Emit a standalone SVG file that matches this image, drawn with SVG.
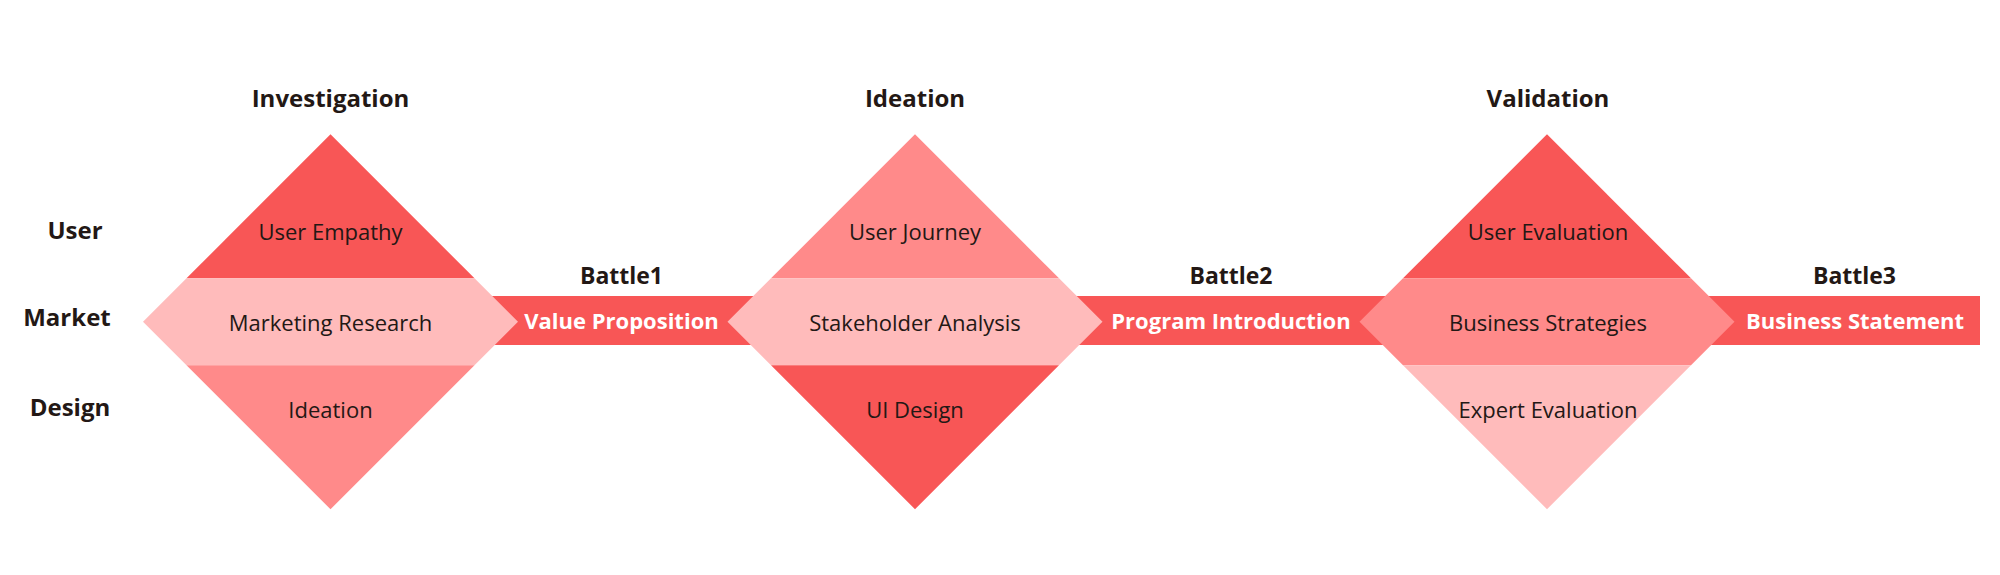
<svg xmlns="http://www.w3.org/2000/svg" xmlns:xlink="http://www.w3.org/1999/xlink" width="2000" height="575" viewBox="0 0 2000 575">
  <style>
    .dark { fill: #F85656; }
    .mid { fill: #FF8A8A; }
    .light { fill: #FFBBBB; }
    .title { font-family: "Open Sans", "Liberation Sans", sans-serif; font-weight: 700; font-size: 24px; fill: #231815; text-anchor: middle; }
    .row { font-family: "Open Sans", "Liberation Sans", sans-serif; font-weight: 700; font-size: 24px; fill: #231815; text-anchor: middle; }
    .cell { font-family: "Open Sans", "Liberation Sans", sans-serif; font-weight: 400; font-size: 22px; fill: #231815; text-anchor: middle; }
    .battle { font-family: "Open Sans", "Liberation Sans", sans-serif; font-weight: 700; font-size: 23px; fill: #231815; text-anchor: middle; }
    .barlabel { font-family: "Open Sans", "Liberation Sans", sans-serif; font-weight: 700; font-size: 22px; fill: #FFFFFF; text-anchor: middle; }
  </style>
  <defs>
    <polygon id="tri-top" points="0,134.3 144,278.3 -144,278.3"/>
    <polygon id="band-mid" points="-144,278.3 144,278.3 187.5,321.8 144,365.3 -144,365.3 -187.5,321.8"/>
    <polygon id="tri-bot" points="-144,365.3 144,365.3 0,509.3"/>
  </defs>

  <g id="connectors">
    <rect class="dark" x="330" y="296" width="1650" height="49"/>
    <text class="battle" x="621.5" y="283.5">Battle1</text>
    <text class="barlabel" x="621.5" y="329">Value Proposition</text>
    <text class="battle" x="1231" y="283.5">Battle2</text>
    <text class="barlabel" x="1231" y="329">Program Introduction</text>
    <text class="battle" x="1854.5" y="283.5">Battle3</text>
    <text class="barlabel" x="1855" y="329">Business Statement</text>
  </g>

  <g id="row-labels">
    <text class="row" x="75" y="239">User</text>
    <text class="row" x="67" y="326">Market</text>
    <text class="row" x="70" y="416">Design</text>
  </g>

  <g id="investigation">
    <text class="title" x="330.5" y="107">Investigation</text>
    <g transform="translate(330.5,0)">
      <use xlink:href="#tri-top" class="dark"/>
      <use xlink:href="#band-mid" class="light"/>
      <use xlink:href="#tri-bot" class="mid"/>
      <text class="cell" x="0" y="240">User Empathy</text>
      <text class="cell" x="0" y="330.5">Marketing Research</text>
      <text class="cell" x="0" y="418">Ideation</text>
    </g>
  </g>

  <g id="ideation">
    <text class="title" x="915" y="107">Ideation</text>
    <g transform="translate(915,0)">
      <use xlink:href="#tri-top" class="mid"/>
      <use xlink:href="#band-mid" class="light"/>
      <use xlink:href="#tri-bot" class="dark"/>
      <text class="cell" x="0" y="240">User Journey</text>
      <text class="cell" x="0" y="330.5">Stakeholder Analysis</text>
      <text class="cell" x="0" y="418">UI Design</text>
    </g>
  </g>

  <g id="validation">
    <text class="title" x="1548" y="107">Validation</text>
    <g transform="translate(1547,0)">
      <use xlink:href="#tri-top" class="dark"/>
      <use xlink:href="#band-mid" class="mid"/>
      <use xlink:href="#tri-bot" class="light"/>
      <text class="cell" x="1" y="240">User Evaluation</text>
      <text class="cell" x="1" y="330.5">Business Strategies</text>
      <text class="cell" x="1" y="418">Expert Evaluation</text>
    </g>
  </g>
</svg>
